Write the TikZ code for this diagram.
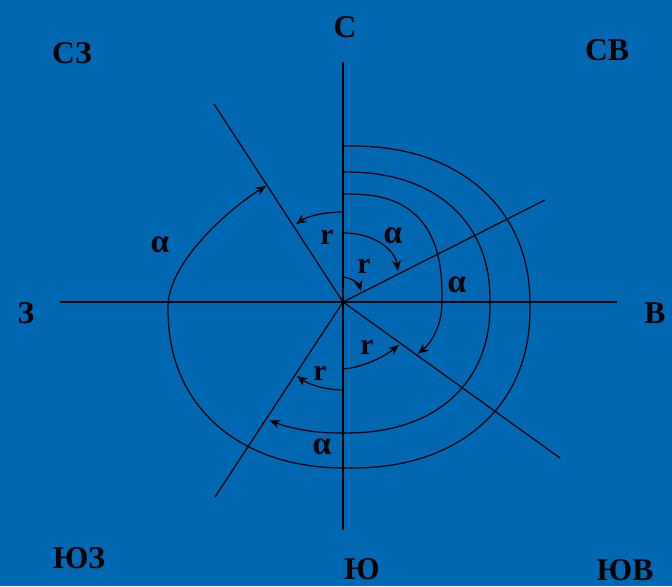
\documentclass[tikz,border=0pt]{standalone}
\usepackage{fontspec}
\setmainfont{Liberation Serif}
\usetikzlibrary{arrows.meta}
\definecolor{cBg}{HTML}{0067B3}
\tikzset{
  axis/.style={line width=0.9pt, black},
  ray/.style={line width=0.7pt, black},
  azarc/.style={line width=0.7pt, black, -{Stealth[length=6pt, width=5pt]}},
  lbl/.style={font=\bfseries\fontsize{18}{20}\selectfont, inner sep=0pt},
  lalpha/.style={font=\bfseries\fontsize{19}{20}\selectfont, inner sep=0pt},
  lrumb/.style={font=\bfseries\fontsize{17}{19}\selectfont, inner sep=0pt},
}
\newcommand{\sarc}[8][]{\draw[#1] plot[domain=#7:#8, samples=90, smooth]
  ({#2+#4*sign(sin(\x))*pow(abs(sin(\x))+0.00001,#6)}, {#3-#5*sign(cos(\x))*pow(abs(cos(\x))+0.00001,#6)});}

\begin{document}
\begin{tikzpicture}[x=0.02cm, y=-0.02cm]
\fill[cBg] (0,0) rectangle (672,586);
\coordinate (O) at (343,302);
\coordinate (n) at (343,62);  \coordinate (s) at (343,530);
\coordinate (w) at (60,302);  \coordinate (e) at (617,302);
\coordinate (nw) at (214,104); \coordinate (ne) at (545,200);
\coordinate (se) at (560,458); \coordinate (sw) at (215,497);
\draw[axis] (n) -- (s);
\draw[axis] (w) -- (e);
\draw[ray] (O) -- (nw);
\draw[ray] (O) -- (ne);
\draw[ray] (O) -- (se);
\draw[ray] (O) -- (sw);
\draw[azarc] plot[domain=-1:270, samples=90, smooth]
  ({349+181*sign(sin(\x))*pow(abs(sin(\x))+0.00001,0.9)}, {307-161*sign(cos(\x))*pow(abs(cos(\x))+0.00001,0.9)})
  .. controls (168,262) and (230,208) .. (266,186);
\sarc[azarc]{343}{302.5}{147}{130.5}{0.88}{0}{207}
\draw[azarc] plot[domain=0:90, samples=60, smooth]
  ({343+99*pow(abs(sin(\x))+0.00001,0.75)}, {302-108*pow(abs(cos(\x))+0.00001,0.75)})
  .. controls (442,325) and (432,342) .. (418,354);
\draw[azarc] (343,233) .. controls (375,233) and (395,250) .. (398,271);
\draw[azarc] (343,212) .. controls (325,212) and (308,216) .. (296,224);
\draw[azarc] (343,277) .. controls (352,278) and (359,284) .. (361,291);
\draw[azarc] (343,369) .. controls (365,367) and (385,356) .. (399,345);
\draw[azarc] (343,390) .. controls (325,390) and (308,384) .. (297,376);
\node[lalpha] (a1) at (160,245) {α};
\node[lalpha] (a2) at (322,447) {α};
\node[lalpha] (a3) at (457,285) {α};
\node[lalpha] (a4) at (393,236) {α};
\node[lrumb] (r1) at (327,237) {r};
\node[lrumb] (r2) at (364,266) {r};
\node[lrumb] (r3) at (367,347) {r};
\node[lrumb] (r4) at (320,373) {r};
\node[lbl] (lN) at (345,27) {С};
\node[lbl] (lNW) at (72,53) {СЗ};
\node[lbl] (lNE) at (607,50) {СВ};
\node[lbl] (lW) at (26,313) {З};
\node[lbl] (lE) at (655,313) {В};
\node[lbl] (lSW) at (79,558) {ЮЗ};
\node[lbl] (lS) at (362,569) {Ю};
\node[lbl] (lSE) at (625,570) {ЮВ};
\end{tikzpicture}
\end{document}
